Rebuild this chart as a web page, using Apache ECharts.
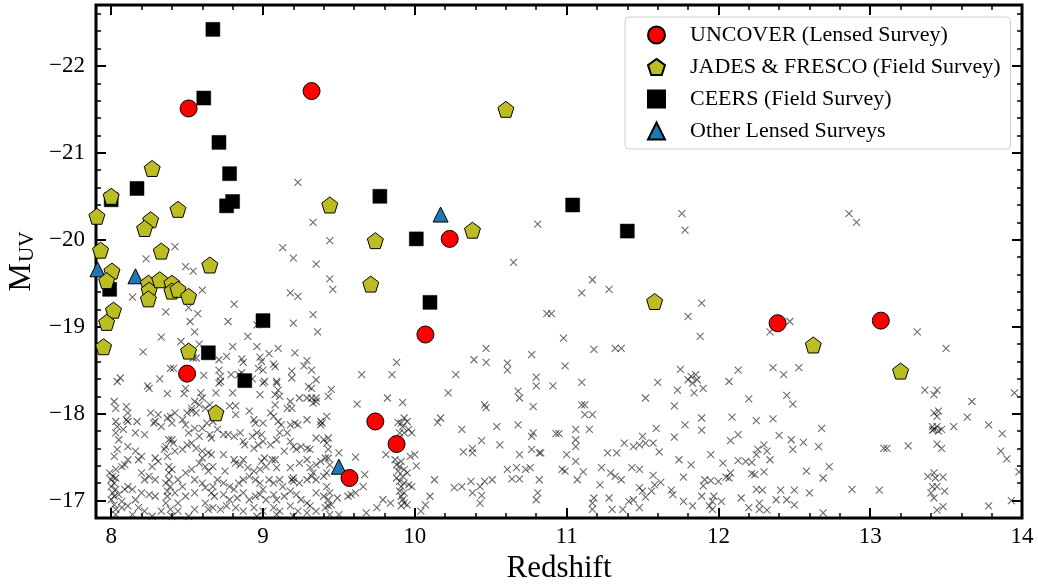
<!DOCTYPE html>
<html><head><meta charset="utf-8">
<script src="https://cdn.jsdelivr.net/npm/echarts@6/dist/echarts.min.js"></script>
<style>html,body{margin:0;padding:0;background:#fff}#c{width:1038px;height:587px}</style>
</head><body><div id="c"></div><script>
const X_MIN = 7.9, X_MAX = 14;
const Y_MIN = -22.7, Y_MAX = -16.8;
const xMajorTicks = [8, 9, 10, 11, 12, 13, 14];
const xMinorTicks = [8.2, 8.4, 8.6, 8.8, 9.2, 9.4, 9.6, 9.8, 10.2, 10.4, 10.6, 10.8, 11.2, 11.4, 11.6, 11.8, 12.2, 12.4, 12.6, 12.8, 13.2, 13.4, 13.6, 13.8];
const yMajorTicks = [-22, -21, -20, -19, -18, -17];
const yMinorTicks = [-22.6, -22.4, -22.2, -21.8, -21.6, -21.4, -21.2, -20.8, -20.6, -20.4, -20.2, -19.8, -19.6, -19.4, -19.2, -18.8, -18.6, -18.4, -18.2, -17.8, -17.6, -17.4, -17.2];

const uncover = [[8.51,-21.51],[9.32,-21.71],[10.23,-20.01],[10.07,-18.91],[8.50,-18.46],[9.74,-17.91],[9.88,-17.65],[9.57,-17.26],[12.39,-19.04],[13.07,-19.07]];
const jadesFresco = [[8.27,-20.82],[8.00,-20.50],[8.44,-20.35],[8.26,-20.23],[8.22,-20.13],[7.906,-20.27],[7.93,-19.88],[8.33,-19.87],[8.005,-19.64],[8.65,-19.71],[7.97,-19.53],[8.245,-19.50],[8.25,-19.42],[8.245,-19.32],[8.32,-19.54],[8.40,-19.50],[8.40,-19.41],[8.44,-19.43],[8.51,-19.35],[8.015,-19.19],[7.97,-19.05],[7.95,-18.77],[8.51,-18.72],[8.69,-18.01],[9.44,-20.40],[9.74,-19.99],[10.38,-20.11],[10.60,-21.50],[9.71,-19.49],[11.58,-19.29],[12.625,-18.79],[13.20,-18.49]];
const ceers = [[8.67,-22.42],[8.61,-21.63],[8.71,-21.12],[8.78,-20.76],[8.17,-20.59],[8.76,-20.39],[8.80,-20.44],[8.00,-20.46],[7.99,-19.43],[9.00,-19.07],[8.64,-18.70],[8.88,-18.38],[9.77,-20.50],[10.01,-20.01],[11.04,-20.40],[11.40,-20.10],[10.10,-19.28]];
const otherLensed = [[8.16,-19.58],[10.17,-20.29],[9.50,-17.39],[7.91,-19.66]];

const photometric = [
[9.23,-20.66],[9.33,-20.20],[9.44,-19.99],[9.13,-19.91],[9.20,-19.79],[9.35,-19.72],[9.44,-19.55],[9.46,-19.43],[9.18,-19.39],[9.23,-19.35],[8.42,-19.92],[8.23,-19.78],[8.49,-19.69],[8.54,-19.64],[8.60,-19.42],[8.14,-19.34],
[10.65,-19.74],[10.81,-20.18],[11.17,-19.54],[11.28,-19.43],[11.76,-20.30],[11.78,-20.11],[12.86,-20.30],[12.91,-20.20],
[8.36,-19.17],[8.51,-19.22],[8.57,-19.15],[8.52,-19.06],[8.55,-18.94],[8.33,-18.88],[8.46,-18.83],[8.21,-18.71],[8.81,-19.26],[8.77,-19.06],[8.90,-18.89],[8.80,-18.77],[8.96,-18.77],[9.20,-19.04],[9.33,-19.14],[9.36,-18.94],[9.10,-18.75],[9.04,-18.69],[8.98,-18.65],[8.99,-18.60],[9.07,-18.57],[9.21,-18.70],[9.29,-18.61],[9.32,-18.50],[9.27,-18.55],[9.35,-18.39],[8.71,-18.62],[8.76,-18.66],[8.86,-18.63],[8.86,-18.47],[8.71,-18.50],[8.72,-18.43],[8.39,-18.52],[8.41,-18.52],[8.32,-18.40],[8.06,-18.41],
[8.58,-18.80],[8.96,-19.02],[8.87,-18.59],[8.97,-18.52],[9.00,-18.50],[9.08,-18.54],[9.19,-18.49],[9.19,-18.41],[9.09,-18.37],[9.01,-18.37],[8.93,-18.40],[8.84,-18.45],[8.79,-18.45],[8.72,-18.37],[8.61,-18.44],[8.54,-18.64],[8.56,-18.64],
[9.65,-18.45],[9.85,-18.45],[9.88,-18.59],
[10.22,-18.24],[10.27,-18.45],[10.39,-18.62],[10.47,-18.75],[10.47,-18.59],[10.46,-18.10],[10.47,-18.07],[10.31,-17.82],[10.44,-17.69],[10.38,-17.60],[10.32,-17.56],[10.38,-17.55],[10.26,-17.15],[10.31,-17.16],[10.37,-17.22],[10.38,-17.09],[10.43,-17.16],[10.44,-17.06],[10.43,-16.97],[10.46,-17.22],[10.51,-17.24],[10.54,-17.85],[10.56,-17.64],[10.61,-18.58],[10.61,-18.50],[10.68,-18.26],[10.69,-18.18],[10.68,-17.87],[10.61,-17.36],[10.64,-17.25],[10.67,-17.38],[10.69,-17.25],[10.69,-17.53],[10.73,-17.36],[10.76,-17.38],[10.77,-17.74],[10.78,-17.78],[10.78,-18.08],[10.80,-18.42],[10.80,-18.32],[10.77,-18.68],[10.77,-17.59],[10.82,-17.55],[10.81,-17.09],[10.80,-17.01],[10.82,-17.24],[10.83,-17.55],[10.93,-17.77],[10.95,-17.77],[10.91,-18.32],[10.97,-17.36],[10.99,-17.34],[10.98,-18.87],[10.99,-18.55],[10.87,-19.15],[10.90,-19.15],[11.10,-19.39],[11.18,-18.74],[11.32,-18.75],[11.36,-18.75],[11.10,-18.36],[11.12,-18.10],[11.10,-18.10],[11.12,-17.99],[11.17,-17.99],[11.15,-17.82],[11.06,-17.82],[11.06,-17.70],[11.06,-17.62],[11.00,-17.53],[11.06,-17.45],[11.07,-17.24],[11.11,-17.33],[11.18,-17.03],[11.17,-16.97],[11.23,-17.38],[11.29,-17.32],[11.32,-17.28],[11.36,-17.24],[11.27,-17.55],[11.33,-17.55],[11.38,-17.66],[11.44,-17.62],[11.48,-17.64],[11.50,-17.74],[11.52,-17.66],[11.48,-17.15],[11.50,-17.11],[11.44,-17.01],[11.48,-17.36],[11.43,-17.38],[11.30,-16.90],[11.37,-16.90],[11.48,-16.92],[11.41,-16.99],[11.28,-17.03],[11.52,-17.04],[11.52,-18.18],[11.22,-17.18],[11.17,-16.90],
[11.89,-19.27],[11.80,-19.12],[11.88,-18.89],[12.47,-19.06],[12.34,-18.94],[13.31,-18.94],[13.50,-18.75],[11.75,-18.51],[12.13,-18.50],[12.36,-18.53],[12.53,-18.53],[12.43,-18.45],[11.80,-18.39],[11.83,-18.35],[11.86,-18.39],[11.82,-18.43],[11.85,-18.45],[11.90,-18.29],[11.84,-18.24],[11.73,-18.27],[11.60,-18.36],[12.07,-18.37],[12.20,-18.17],[12.45,-18.21],[12.49,-18.11],[11.71,-18.09],[13.36,-18.27],[13.44,-18.27],[13.42,-18.22],[13.95,-18.24],[13.67,-18.14],[13.87,-17.77],[13.90,-17.48],[13.86,-17.57],[13.78,-17.87],[13.64,-17.96],[13.55,-17.85],[13.42,-18.01],[13.44,-17.97],[13.45,-18.03],[13.41,-17.85],[13.42,-17.82],[13.44,-17.85],[13.47,-17.82],[13.45,-17.80],[13.41,-17.81],[13.44,-17.65],[13.47,-17.60],[11.89,-17.95],[11.89,-17.81],[12.09,-17.96],[12.13,-17.76],[12.08,-17.69],[12.25,-17.92],[12.36,-17.94],[12.40,-17.75],[12.48,-17.70],[12.49,-17.59],[12.56,-17.67],[12.68,-17.83],[12.66,-17.62],[12.73,-17.39],[12.69,-17.26],[12.58,-17.34],[12.60,-17.09],[12.50,-17.12],[12.41,-17.12],[12.38,-17.01],[12.45,-17.01],[12.50,-16.95],[12.32,-16.89],[12.27,-16.90],[12.27,-16.97],[12.29,-17.12],[12.25,-17.13],[12.30,-17.33],[12.24,-17.30],[12.22,-17.31],[12.34,-17.47],[12.32,-17.57],[12.30,-17.64],[12.26,-17.59],[12.25,-17.53],[12.18,-17.45],[12.22,-17.44],[12.13,-17.46],[12.08,-17.32],[12.07,-17.26],[12.05,-17.27],[12.03,-17.43],[12.00,-17.22],[11.95,-17.23],[11.91,-17.24],[11.90,-17.17],[11.89,-17.05],[11.97,-17.05],[11.96,-16.99],[12.02,-16.99],[11.94,-16.94],[11.96,-16.90],[11.83,-16.94],[11.77,-16.99],[11.69,-17.12],[11.70,-17.07],[11.62,-17.21],[11.57,-17.29],[11.58,-17.18],[11.56,-17.11],[11.61,-17.56],[11.57,-17.66],[11.59,-17.83],[11.71,-17.73],[11.74,-17.47],[11.78,-17.87],[11.82,-17.41],[11.77,-17.27],[11.95,-17.53],[12.15,-17.03],[12.20,-16.92],[12.69,-16.86],[12.88,-17.13],[13.06,-17.12],[13.09,-17.60],[13.11,-17.60],[13.25,-17.63],[13.38,-17.28],[13.42,-17.32],[13.43,-17.26],[13.48,-17.27],[13.41,-17.16],[13.44,-17.16],[13.40,-17.09],[13.42,-17.03],[13.49,-17.11],[13.48,-16.93],[13.44,-16.89],[13.78,-16.94],[13.93,-17.00],[13.98,-17.33],
[8.04,-18.37],[8.24,-18.32],[8.25,-18.29],[8.37,-18.23],[8.48,-18.23],[8.49,-18.29],[8.59,-18.24],[8.60,-18.18],[8.55,-18.14],[8.58,-18.10],[8.53,-18.06],[8.50,-18.01],[8.53,-18.03],[8.56,-18.01],[8.62,-18.06],[8.65,-18.10],[8.02,-18.14],[8.03,-18.06],[8.10,-18.08],[8.11,-18.01],[8.10,-17.93],[8.11,-17.91],[8.03,-17.91],[8.04,-17.85],[8.08,-17.82],[8.03,-17.78],[8.05,-17.70],[8.04,-17.59],[8.02,-17.51],[8.17,-17.91],[8.26,-18.01],[8.31,-17.99],[8.29,-17.91],[8.28,-17.89],[8.33,-17.85],[8.37,-17.95],[8.39,-17.97],[8.42,-18.01],[8.40,-17.89],[8.47,-17.93],[8.49,-17.87],[8.51,-17.78],[8.55,-17.83],[8.60,-17.83],[8.63,-17.89],[8.58,-17.74],[8.65,-17.76],[8.22,-17.76],[8.16,-17.78],[8.40,-17.70],[8.41,-17.66],[8.36,-17.62],[8.35,-17.59],[8.42,-17.57],[8.47,-17.59],[8.50,-17.64],[8.53,-17.66],[8.56,-17.60],[8.60,-17.57],[8.64,-17.55],[8.16,-17.57],[8.11,-17.62],[8.18,-17.47],[8.20,-17.51],[8.29,-17.49],[8.31,-17.45],[8.27,-17.39],[8.09,-17.41],[8.07,-17.39],[8.11,-17.47],[8.03,-17.36],[8.01,-17.28],[8.02,-17.20],[8.03,-17.13],[8.02,-17.05],[8.05,-17.07],[8.07,-16.99],[8.09,-17.13],[8.11,-17.16],[8.14,-17.13],[8.20,-17.32],[8.25,-17.28],[8.22,-17.24],[8.29,-17.24],[8.38,-17.39],[8.40,-17.36],[8.38,-17.24],[8.39,-17.16],[8.37,-17.11],[8.42,-17.09],[8.47,-17.16],[8.44,-17.24],[8.49,-17.32],[8.53,-17.36],[8.58,-17.43],[8.60,-17.49],[8.62,-17.39],[8.64,-17.34],[8.55,-17.24],[8.60,-17.20],[8.62,-17.15],[8.66,-17.09],[8.55,-17.09],[8.49,-17.05],[8.44,-16.97],[8.36,-16.97],[8.29,-17.05],[8.25,-17.07],[8.20,-17.09],[8.16,-17.01],[8.11,-16.94],[8.07,-16.92],[8.03,-16.90],[8.18,-16.92],[8.22,-16.88],[8.33,-16.88],[8.44,-16.88],[8.55,-16.90],[8.62,-16.97],[8.64,-16.90],[8.03,-16.84],[8.14,-16.84],[8.27,-16.82],[8.40,-16.82],[8.51,-16.82],
[8.00,-17.24],[8.00,-17.16],[8.01,-17.09],[8.00,-17.01],[8.02,-16.95],[7.99,-17.32],[8.03,-17.26],[8.38,-17.70],[8.37,-17.51],[8.38,-17.32],[8.37,-17.05],[8.39,-16.90],[8.36,-17.20],
[8.71,-18.35],[8.69,-18.24],[8.80,-18.24],[8.98,-18.22],[9.00,-18.35],[9.09,-18.35],[9.10,-18.27],[9.08,-18.22],[9.11,-18.20],[9.18,-18.14],[9.19,-18.06],[9.16,-18.06],[9.24,-18.18],[9.30,-18.31],[9.32,-18.29],[9.29,-18.18],[9.32,-18.18],[9.35,-18.18],[9.35,-18.14],[9.33,-18.12],[9.43,-18.20],[8.78,-18.09],[8.82,-18.09],[8.82,-17.99],[8.91,-18.03],[8.94,-17.93],[8.95,-17.89],[9.00,-17.89],[9.05,-18.01],[9.08,-18.10],[9.07,-17.97],[9.10,-17.91],[9.12,-17.87],[9.18,-17.87],[9.21,-17.89],[9.23,-17.87],[9.29,-17.93],[9.38,-17.91],[9.39,-17.89],[9.42,-17.97],[8.67,-17.91],[8.70,-17.82],[8.66,-17.72],[8.74,-17.76],[8.77,-17.76],[8.81,-17.74],[8.85,-17.78],[8.87,-17.68],[8.88,-17.64],[8.93,-17.74],[8.96,-17.78],[8.99,-17.76],[8.94,-17.60],[8.97,-17.64],[9.00,-17.68],[9.05,-17.64],[9.09,-17.70],[9.11,-17.78],[9.16,-17.78],[9.18,-17.68],[9.20,-17.62],[9.22,-17.59],[9.25,-17.62],[9.29,-17.60],[9.31,-17.59],[9.35,-17.72],[9.40,-17.70],[9.42,-17.66],[9.43,-17.59],[8.66,-17.53],[8.67,-17.39],[8.74,-17.53],[8.75,-17.34],[8.81,-17.47],[8.82,-17.43],[8.85,-17.41],[8.87,-17.47],[8.90,-17.38],[8.94,-17.34],[8.99,-17.45],[8.98,-17.36],[9.01,-17.49],[9.02,-17.39],[9.06,-17.47],[9.08,-17.47],[9.09,-17.38],[9.14,-17.57],[9.18,-17.38],[9.19,-17.24],[9.20,-17.26],[9.24,-17.43],[9.29,-17.47],[9.31,-17.38],[9.33,-17.32],[9.35,-17.41],[9.38,-17.45],[9.41,-17.49],[8.70,-17.24],[8.74,-17.20],[8.78,-17.16],[8.81,-17.13],[8.84,-17.20],[8.87,-17.24],[8.91,-17.28],[8.95,-17.24],[8.98,-17.20],[9.00,-17.13],[9.04,-17.24],[9.07,-17.20],[9.11,-17.24],[9.13,-17.16],[9.24,-17.20],[9.29,-17.24],[9.32,-17.28],[9.35,-17.24],[9.40,-17.28],[9.42,-17.32],[8.68,-17.05],[8.74,-17.07],[8.78,-17.01],[8.83,-17.03],[8.87,-17.09],[8.91,-17.01],[8.95,-17.05],[8.98,-17.07],[9.02,-17.01],[9.07,-17.07],[9.09,-17.01],[9.14,-17.05],[9.18,-17.11],[9.22,-17.07],[9.25,-17.01],[9.29,-16.97],[9.31,-16.94],[9.35,-17.09],[9.40,-17.05],[9.43,-17.01],[8.67,-16.92],[8.72,-16.90],[8.76,-16.94],[8.82,-16.92],[8.87,-16.88],[8.94,-16.92],[9.00,-16.88],[9.07,-16.92],[9.11,-16.88],[9.18,-16.94],[9.23,-16.88],[9.29,-16.86],[9.35,-16.88],[9.41,-16.92],[8.96,-16.82],[9.09,-16.84],[9.20,-16.82],[9.20,-17.22],[9.38,-17.87],[8.67,-17.16],
[9.45,-18.28],[9.62,-18.11],[9.82,-18.18],[9.92,-18.13],[9.93,-17.95],[9.95,-17.91],[9.91,-17.89],[9.89,-17.90],[9.92,-17.85],[9.96,-17.82],[9.98,-17.78],[9.90,-17.78],[9.93,-17.78],[10.17,-17.95],[10.15,-17.90],[9.43,-17.72],[9.43,-17.49],[9.44,-17.41],[9.50,-17.55],[9.61,-17.50],[9.81,-17.53],[9.87,-17.47],[9.91,-17.45],[9.88,-17.41],[9.90,-17.39],[9.97,-17.51],[10.00,-17.53],[9.93,-17.36],[9.89,-17.34],[9.95,-17.32],[10.01,-17.40],[9.92,-17.28],[9.88,-17.26],[9.90,-17.22],[9.93,-17.20],[9.96,-17.18],[9.91,-17.16],[9.90,-17.11],[9.93,-17.09],[9.91,-17.05],[9.92,-17.01],[9.93,-16.97],[9.98,-17.16],[9.91,-16.94],[9.95,-16.95],[9.42,-17.16],[9.44,-17.09],[9.45,-16.95],[9.43,-16.94],[9.49,-17.03],[9.56,-17.05],[9.58,-17.07],[9.61,-17.09],[9.66,-17.16],[9.67,-17.30],[9.79,-17.01],[9.84,-16.97],[9.75,-16.92],[9.68,-16.86],[10.07,-16.95],[10.10,-17.05],[10.13,-17.24],[10.04,-16.88],[9.50,-16.84],[9.44,-16.84]
];

const legendNames = ['UNCOVER (Lensed Survey)', 'JADES & FRESCO (Field Survey)', 'CEERS (Field Survey)', 'Other Lensed Surveys'];

const SERIF = "'Liberation Serif', 'Times New Roman', serif";
const PENTAGON = 'path://M0,-1L0.951,-0.309L0.588,0.809L-0.588,0.809L-0.951,-0.309Z';
const CROSS = 'path://M0,0L1,1M1,0L0,1';
const fmtY = v => (v < 0 ? '\u2212' : '') + Math.abs(v);

function xAxisDef(pos, ticks, len, w, withLabels) {
  const ax = {
    type: 'value', min: X_MIN, max: X_MAX, position: pos, gridIndex: 0,
    axisLine: { show: false }, splitLine: { show: false }, minorTick: { show: false },
    axisTick: { show: true, inside: true, length: len, lineStyle: { color: '#000', width: w }, customValues: ticks },
    axisLabel: { show: withLabels, customValues: ticks, color: '#000', fontFamily: SERIF, fontSize: 23, margin: 7 }
  };
  if (withLabels) {
    ax.name = 'Redshift'; ax.nameLocation = 'middle'; ax.nameGap = 33;
    ax.nameTextStyle = { color: '#000', fontFamily: SERIF, fontSize: 31 };
  }
  return ax;
}
function yAxisDef(pos, ticks, len, w, withLabels) {
  const ax = {
    type: 'value', min: Y_MIN, max: Y_MAX, inverse: true, position: pos, gridIndex: 0,
    axisLine: { show: false }, splitLine: { show: false }, minorTick: { show: false },
    axisTick: { show: true, inside: true, length: len, lineStyle: { color: '#000', width: w }, customValues: ticks },
    axisLabel: { show: withLabels, customValues: ticks, color: '#000', fontFamily: SERIF, fontSize: 23, margin: 11, formatter: fmtY }
  };
  if (withLabels) {
    ax.name = '{m|M}{s|UV}'; ax.nameLocation = 'middle'; ax.nameGap = 58; ax.nameRotate = 90;
    ax.nameTextStyle = { color: '#000', fontFamily: SERIF, rich: {
      m: { fontFamily: SERIF, fontSize: 32, color: '#000', lineHeight: 34, verticalAlign: 'bottom' },
      s: { fontFamily: SERIF, fontSize: 21, color: '#000', lineHeight: 34, verticalAlign: 'bottom', padding: [0, 0, 0, 1] }
    } };
  }
  return ax;
}

const chart = echarts.init(document.getElementById('c'), null, { renderer: 'canvas' });
chart.setOption({
  animation: false,
  backgroundColor: '#fff',
  grid: { left: 96, right: 16, top: 5, bottom: 69, containLabel: false, outerBoundsMode: 'none',
          show: true, borderColor: '#000', borderWidth: 3, backgroundColor: 'transparent' },
  xAxis: [
    xAxisDef('bottom', xMajorTicks, 10, 2, true),
    xAxisDef('top', xMajorTicks, 10, 2, false),
    xAxisDef('bottom', xMinorTicks, 5, 1.5, false),
    xAxisDef('top', xMinorTicks, 5, 1.5, false)
  ],
  yAxis: [
    yAxisDef('left', yMajorTicks, 10, 2, true),
    yAxisDef('right', yMajorTicks, 10, 2, false),
    yAxisDef('left', yMinorTicks, 5, 1.5, false),
    yAxisDef('right', yMinorTicks, 5, 1.5, false)
  ],
  legend: {
    data: legendNames, orient: 'vertical', left: 625, top: 17,
    padding: [7, 10, 7, 22], itemGap: 10, itemWidth: 17, itemHeight: 17,
    backgroundColor: '#fff', borderColor: '#d0d0d0', borderWidth: 1, borderRadius: 4,
    textStyle: { color: '#000', fontFamily: SERIF, fontSize: 22, lineHeight: 22, padding: [0, 0, 0, 20] },
    selectedMode: false
  },
  series: [
    { type: 'scatter', name: 'photometric', data: photometric, symbol: CROSS, symbolSize: 7, silent: true,
      itemStyle: { color: 'rgba(0,0,0,0)', borderColor: 'rgba(0,0,0,0.58)', borderWidth: 1.1, opacity: 1 } },
    { type: 'scatter', name: legendNames[3], data: otherLensed, symbol: 'triangle', symbolSize: 15,
      itemStyle: { color: '#1f77b4', borderColor: '#000', borderWidth: 1, opacity: 1 } },
    { type: 'scatter', name: legendNames[2], data: ceers, symbol: 'rect', symbolSize: 14,
      itemStyle: { color: '#000', borderColor: '#000', borderWidth: 0.5, opacity: 1 } },
    { type: 'scatter', name: legendNames[1], data: jadesFresco, symbol: PENTAGON, symbolSize: 16,
      itemStyle: { color: '#bcbd22', borderColor: '#000', borderWidth: 1, opacity: 1 } },
    { type: 'scatter', name: legendNames[0], data: uncover, symbol: 'circle', symbolSize: 17,
      itemStyle: { color: '#ff0000', borderColor: '#000', borderWidth: 1, opacity: 1 } }
  ]
});
</script></body></html>
